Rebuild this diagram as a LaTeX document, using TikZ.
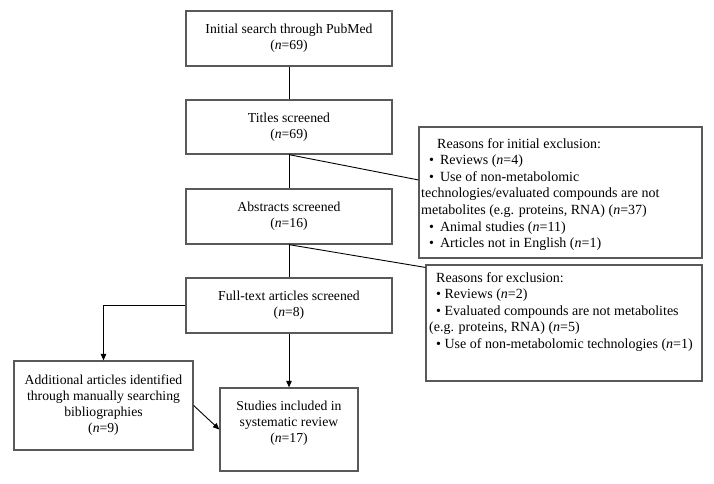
\documentclass[tikz,border=0pt]{standalone}
\usepackage{fontspec}
\setmainfont{Liberation Serif}
\usetikzlibrary{arrows.meta,calc}
\newcommand{\boxfont}{\fontsize{13.7}{16}\selectfont}
\newcommand{\reasonfont}{\fontsize{14}{16.6}\selectfont}
\tikzset{
  flowbox/.style={draw=black!65, line width=1.3pt, inner sep=0pt, align=center, font=\boxfont},
  plaintext/.style={inner sep=0pt, align=center, font=\boxfont},
  reasontext/.style={inner sep=0pt, align=left, font=\reasonfont, anchor=north west},
  conn/.style={draw=black, line width=0.9pt},
  arr/.style={conn, -{Triangle[length=6.5pt,width=5.5pt]}}
}
\begin{document}
\begin{tikzpicture}[x=1pt,y=-1pt]
\path[use as bounding box] (0,0) rectangle (714,483);
\fill[white] (0,0) rectangle (714,483);

\node[flowbox, minimum width=206pt, minimum height=55pt] (init) at (289,38.5) {Initial search through PubMed\\(\textit{n}=69)};
\node[flowbox, minimum width=206pt, minimum height=54pt] (titles) at (289,127) {Titles screened\\(\textit{n}=69)};
\node[flowbox, minimum width=206pt, minimum height=55pt] (abstr) at (289,216.5) {Abstracts screened\\(\textit{n}=16)};
\node[flowbox, minimum width=206pt, minimum height=55pt] (full) at (289,305.5) {Full-text articles screened\\(\textit{n}=8)};
\node[flowbox, minimum width=179pt, minimum height=89pt] (add) at (103.5,405.5) {Additional articles identified\\through manually searching\\bibliographies\\(\textit{n}=9)};
\node[flowbox, minimum width=138pt, minimum height=83pt] (stud) at (289,429.5) {};
\node[plaintext] (studtext) at (289,423.5) {Studies included in\\systematic review\\(\textit{n}=17)};

\node[flowbox, minimum width=283pt, minimum height=131pt] (r1) at (560.5,192.5) {};
\node[reasontext] (r1text) at (421,138) {\hspace*{16pt}Reasons for initial exclusion:\\
\hspace*{8pt}\textbullet\hspace{6pt}Reviews (\textit{n}=4)\\
\hspace*{8pt}\textbullet\hspace{6pt}Use of non-metabolomic\\
technologies/evaluated compounds are not\\
metabolites (e.g. proteins, RNA) (\textit{n}=37)\\
\hspace*{8pt}\textbullet\hspace{6pt}Animal studies (\textit{n}=11)\\
\hspace*{8pt}\textbullet\hspace{6pt}Articles not in English (\textit{n}=1)};

\node[flowbox, minimum width=276pt, minimum height=116pt] (r2) at (564,323) {};
\node[reasontext] (r2text) at (429,272) {\hspace*{7pt}Reasons for exclusion:\\
\hspace*{7pt}\textbullet\ Reviews (\textit{n}=2)\\
\hspace*{7pt}\textbullet\ Evaluated compounds are not metabolites\\
(e.g. proteins, RNA) (\textit{n}=5)\\
\hspace*{7pt}\textbullet\ Use of non-metabolomic technologies (\textit{n}=1)};

\coordinate (r1in) at ($(r1.north west)!0.405!(r1.south west)$);
\coordinate (r2in) at ($(r2.north west)!0.026!(r2.south west)$);

\draw[conn] (init.south) -- (titles.north);
\draw[conn] (titles.south) -- (abstr.north);
\draw[conn] (abstr.south) -- (full.north);
\draw[conn] (titles.south) -- (r1in);
\draw[conn] (abstr.south) -- (r2in);
\draw[arr] (full.west) -| (add.north);
\draw[arr] (full.south) -- (stud.north);
\draw[arr] (add.east) -- (stud.west);
\end{tikzpicture}
\end{document}
